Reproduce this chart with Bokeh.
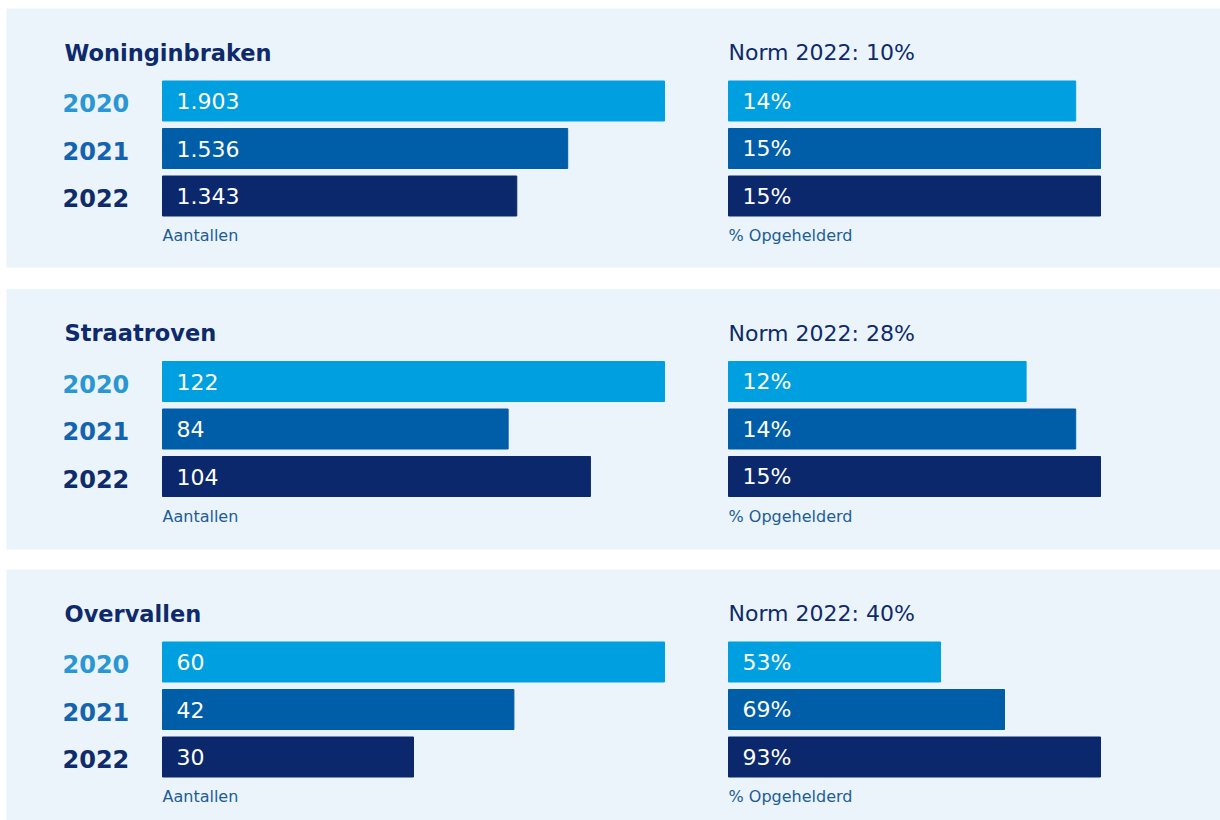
from bokeh.plotting import figure
from bokeh.models import Range1d
from bokeh.embed import file_html
from bokeh.resources import INLINE
from bokeh.core.properties import value

# ---- data ----
titles = ["Woninginbraken", "Straatroven", "Overvallen"]
years = ["2020", "2021", "2022"]
counts = [[1903, 1536, 1343], [122, 84, 104], [60, 42, 30]]
cleared_pct = [[14, 15, 15], [12, 14, 15], [53, 69, 93]]
norms_2022 = [10, 28, 40]
left_caption = "Aantallen"
right_caption = "% Opgehelderd"

# ---- style ----
bar_colors = ["#009FE0", "#005DA8", "#0B286C"]
year_colors = ["#2A96D4", "#1463AE", "#0F2B6B"]
navy = "#0E2A6B"
caption_color = "#215C95"
panel_bg = "#EBF4FB"
FONT = value("DejaVu Sans")

W, H = 1220, 820
p = figure(width=W, height=H, x_range=Range1d(0, W), y_range=Range1d(H, 0),
           output_backend="svg", toolbar_location=None, min_border=0)
p.axis.visible = False
p.grid.visible = False
p.outline_line_color = None
p.background_fill_color = "white"
p.border_fill_color = "white"

panel_tops = [8, 288.5, 569]
panel_bottoms = [267, 549, 820]
p.quad(left=[6] * 3, right=[W] * 3, top=panel_tops, bottom=panel_bottoms,
       fill_color=panel_bg, line_color=None)

L0, L1 = 162, 664     # left bar area pixels
R0, R1 = 728, 1100    # right bar area pixels


def add_range(name, x0, x1, vmax):
    span = x1 - x0
    start = -x0 / span * vmax
    end = start + W / span * vmax
    p.extra_x_ranges[name] = Range1d(start, end)


for i in range(3):
    top = panel_tops[i]
    ys = [top + 92.5 + k * 47.5 for k in range(3)]

    lname, rname = f"left{i}", f"right{i}"
    add_range(lname, L0, L1, max(counts[i]))
    add_range(rname, R0, R1, max(cleared_pct[i]))

    p.hbar(y=ys, left=0, right=counts[i], height=40, color=bar_colors,
           x_range_name=lname)
    p.hbar(y=ys, left=0, right=cleared_pct[i], height=40, color=bar_colors,
           x_range_name=rname)

    # title & norm
    p.text(x=[64], y=[top + 44], text=[titles[i]], text_font=FONT,
           text_font_size="22.5px", text_font_style="bold", text_color=navy,
           text_baseline="middle")
    p.text(x=[728], y=[top + 44], text=[f"Norm 2022: {norms_2022[i]}%"],
           text_font=FONT, text_font_size="22px", text_color=navy,
           text_baseline="middle")

    # year labels
    p.text(x=[62] * 3, y=[y + 2 for y in ys], text=years, text_font=FONT,
           text_font_size="24px", text_font_style="bold",
           text_color=year_colors, text_baseline="middle")

    # value labels
    clabels = [f"{v:,}".replace(",", ".") for v in counts[i]]
    p.text(x=[176] * 3, y=ys, text=clabels, text_font=FONT,
           text_font_size="22px", text_color="white", text_baseline="middle")
    p.text(x=[742] * 3, y=ys, text=[f"{v}%" for v in cleared_pct[i]],
           text_font=FONT, text_font_size="22px", text_color="white",
           text_baseline="middle")

    # captions
    p.text(x=[162], y=[top + 227], text=[left_caption], text_font=FONT,
           text_font_size="16px", text_color=caption_color,
           text_baseline="middle")
    p.text(x=[728], y=[top + 227], text=[right_caption], text_font=FONT,
           text_font_size="16px", text_color=caption_color,
           text_baseline="middle")

open("out.html", "w").write(file_html(p, INLINE))
